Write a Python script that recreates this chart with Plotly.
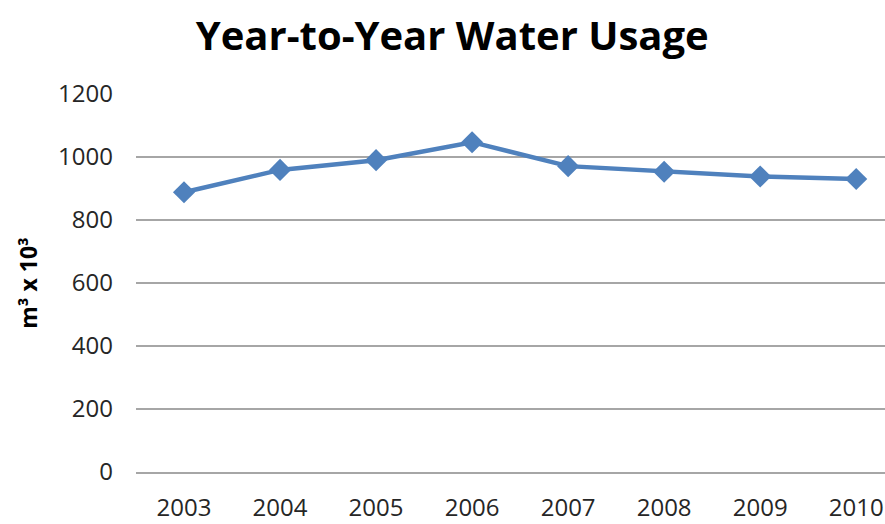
import plotly.graph_objects as go

# Annual water usage (thousands of cubic metres)
years = ["2003", "2004", "2005", "2006", "2007", "2008", "2009", "2010"]
usage = [888, 959, 990, 1047, 971, 953, 938, 930]

y_ticks = [0, 200, 400, 600, 800, 1000, 1200]

blue = "#4F81BD"
grid = "#A6A6A6"
font_family = "Open Sans, Liberation Sans, sans-serif"

fig = go.Figure()
fig.add_trace(go.Scatter(
    x=years,
    y=usage,
    mode="lines+markers",
    line=dict(color=blue, width=4.5),
    marker=dict(symbol="diamond", size=17, color=blue),
    showlegend=False,
    cliponaxis=False,
))

fig.update_layout(
    width=885,
    height=524,
    margin=dict(l=136, r=0, t=94, b=52),
    paper_bgcolor="white",
    plot_bgcolor="white",
    font=dict(family=font_family, color="#262626", size=24),
    title=dict(
        text="<b>Year-to-Year Water Usage</b>",
        x=0.511, xanchor="center",
        y=0.932, yanchor="middle",
        font=dict(size=40, color="black", family=font_family),
    ),
)

fig.update_xaxes(
    type="category",
    range=[-0.5, 7.3],
    automargin=False,
    showgrid=False,
    showline=True,
    linecolor=grid,
    linewidth=1.5,
    ticks="",
    ticklabelstandoff=13,
    tickfont=dict(size=24, color="#262626"),
)

fig.update_yaxes(
    range=[0, 1200],
    automargin=False,
    tickvals=y_ticks,
    ticktext=[str(v) for v in y_ticks],
    showgrid=True,
    gridcolor=grid,
    gridwidth=1.5,
    zeroline=False,
    showline=False,
    ticks="",
    ticklabelstandoff=22,
    tickfont=dict(size=24, color="#262626"),
    title=dict(
        text="<b>m³ x 10³</b>",
        standoff=14,
        font=dict(size=23, color="black", family=font_family),
    ),
)

fig.write_html("out.html")
